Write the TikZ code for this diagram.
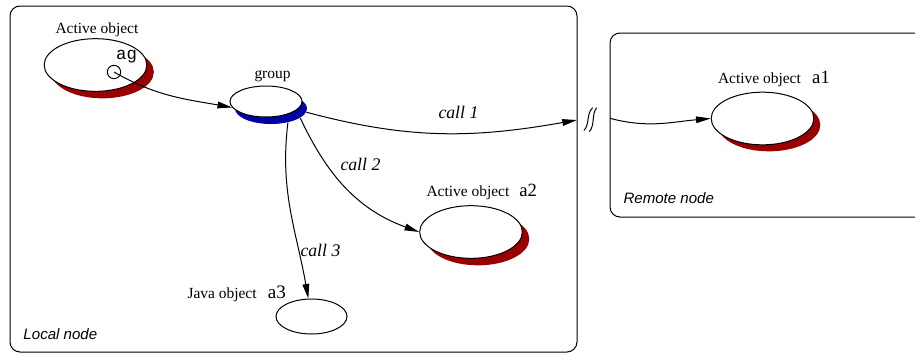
\documentclass[tikz,border=0pt]{standalone}
\usepackage{fontspec}
\setmainfont{Liberation Serif}
\setsansfont{Liberation Sans}
\setmonofont{Liberation Mono}
\usepackage{tikz}
\usetikzlibrary{shapes.geometric}
\usetikzlibrary{arrows.meta}
\definecolor{shadowred}{RGB}{153,0,0}
\definecolor{shadowblue}{RGB}{0,0,165}

\begin{document}
\begin{tikzpicture}[x=0.75pt,y=-0.75pt,line width=0.75pt,
		actobj/.style={ellipse,draw,fill=white,inner sep=0pt,minimum width=77pt,minimum height=39.5pt},
		actsh/.style={ellipse,fill=shadowred,inner sep=0pt,minimum width=77pt,minimum height=39.5pt},
		grpobj/.style={ellipse,draw,fill=white,inner sep=0pt,minimum width=54pt,minimum height=23.25pt},
		grpsh/.style={ellipse,fill=shadowblue,inner sep=0pt,minimum width=54pt,minimum height=23.25pt},
		javaobj/.style={ellipse,draw,inner sep=0pt,minimum width=53.25pt,minimum height=26.25pt},
		port/.style={circle,draw,inner sep=0pt,minimum size=10pt},
		lbl/.style={anchor=base west,inner sep=0pt,font=\fontsize{11.6}{13}\selectfont},
		calllbl/.style={anchor=base west,inner sep=0pt,font=\itshape\fontsize{13.3}{15}\selectfont},
		nodelbl/.style={anchor=base west,inner sep=0pt,font=\sffamily\itshape\fontsize{11.3}{13}\selectfont},
		conn/.style={-{Triangle[length=11pt,width=5pt]}}
	]
		\useasboundingbox (0,0) rectangle (915,354);
		\clip (0,0) rectangle (915,354);

		\draw[rounded corners=7.5pt] (10,6) rectangle (577,352);
		\draw[rounded corners=7.5pt] (610,33) rectangle (940,217);
		\node[nodelbl] (localname) at (23,339.3) {Local node};
		\node[nodelbl] (remotename) at (623,203) {Remote node};

		\node[actsh] (agsh) at (102.5,72) {};
		\node[actobj] (ag) at (95.5,65) {};
		\node[grpsh] (groupsh) at (271,108.5) {};
		\node[grpobj] (group) at (266,101.5) {};
		\node[actsh] (a1sh) at (769,125) {};
		\node[actobj] (a1) at (762.5,118.5) {};
		\node[actsh] (a2sh) at (478,239) {};
		\node[actobj] (a2) at (471,232) {};
		\node[javaobj] (a3) at (311.5,316.5) {};

		\node[lbl] (aglbl) at (55,33.3) {Active object};
		\node[anchor=base west,inner sep=0pt,font=\ttfamily\fontsize{13}{14}\selectfont] (agname) at (115.7,59.3) {ag};
		\node[port] (agport) at (114,72) {};
		\node[lbl] (grouplbl) at (254,78.3) {group};
		\node[lbl] (a1lbl) at (717.5,83.3) {Active object\hspace{8.5pt}{\fontsize{14}{16}\selectfont a1}};
		\node[lbl] (a2lbl) at (426,196.7) {Active object\hspace{7.5pt}{\fontsize{14}{16}\selectfont a2}};
		\node[lbl] (a3lbl) at (187,298) {Java object\hspace{8.5pt}{\fontsize{14.3}{16}\selectfont a3}};

		\coordinate (gapL) at (577,120);
		\coordinate (gapR) at (610,118.3);
		\draw (584,130.5) .. controls (590,124) and (586,114) .. (592.7,107.7);
		\draw (589.3,131.7) .. controls (595.3,125) and (591.3,114) .. (596.7,107.7);

		\draw[conn] (agport.center) to[out=-30,in=170] (group.190);
		\draw[conn] (groupsh.-6) to[out=-15,in=190] (gapL);
		\draw[conn] (gapR) to[out=-15,in=185] (a1.west);
		\draw[conn] (groupsh.-18) to[out=-65,in=160] (a2.west);
		\draw[conn] (groupsh.-40) to[out=-97,in=100] (a3.100);

		\node[calllbl] (call1) at (438,118.3) {call 1};
		\node[calllbl] (call2) at (340,170) {call 2};
		\node[calllbl] (call3) at (300,256) {call 3};
	\end{tikzpicture}
\end{document}
